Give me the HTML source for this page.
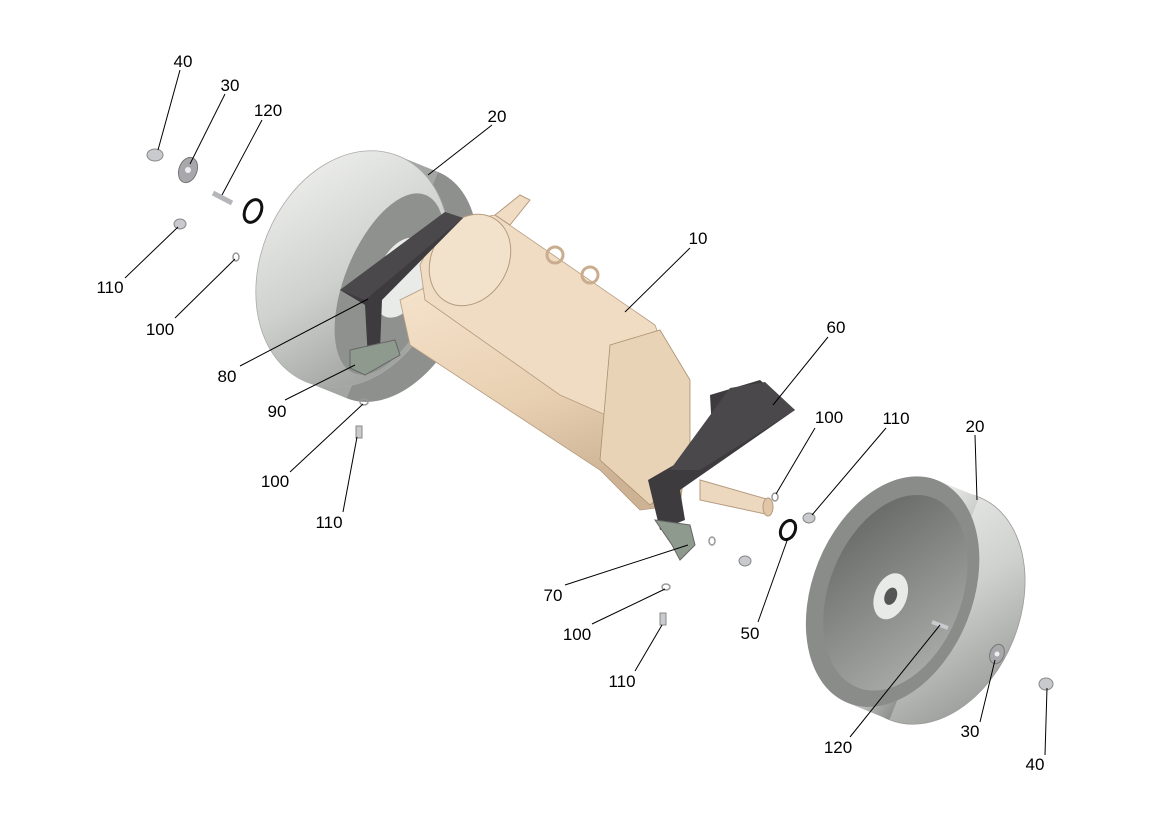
<!DOCTYPE html>
<html><head><meta charset="utf-8"><style>
html,body{margin:0;padding:0;background:#fff;}
svg{display:block;}
text{font-family:"Liberation Sans",Arial,sans-serif;font-size:17px;fill:#000;}
</style></head><body>
<svg width="1169" height="827" viewBox="0 0 1169 827" xmlns="http://www.w3.org/2000/svg">
<defs>
<linearGradient id="wg" x1="0" y1="0" x2="1" y2="1">
<stop offset="0" stop-color="#f4f5f3"/><stop offset="0.5" stop-color="#cfd1ce"/><stop offset="1" stop-color="#8d8f8d"/></linearGradient>
<linearGradient id="wf" x1="0" y1="0" x2="1" y2="1">
<stop offset="0" stop-color="#5f615f"/><stop offset="1" stop-color="#b3b5b3"/></linearGradient>
<linearGradient id="mg" x1="0" y1="0" x2="0.4" y2="1">
<stop offset="0" stop-color="#f5e3cc"/><stop offset="0.6" stop-color="#e8cfb1"/><stop offset="1" stop-color="#cdb294"/></linearGradient>
</defs>

<!-- LEFT WHEEL -->
<g transform="rotate(22 360 272)">
<ellipse cx="395" cy="272" rx="78" ry="122" fill="#8e908e"/>
<rect x="352" y="150" width="43" height="244" fill="#a4a6a4"/>
<ellipse cx="352" cy="272" rx="92" ry="122" fill="url(#wg)" stroke="#aaa" stroke-width="0.8"/>
<ellipse cx="392" cy="272" rx="45" ry="96" fill="#8f918f"/>
<ellipse cx="400" cy="262" rx="24" ry="42" fill="#e9ebe9"/>
</g>

<!-- MOTOR lower housing -->
<polygon points="400,300 430,285 690,430 680,505 640,510 600,470 410,345" fill="url(#mg)" stroke="#b59b7f" stroke-width="0.8"/>
<!-- upper cylinder -->
<polygon points="440,225 495,215 655,325 670,365 640,430 560,395 425,300 420,265" fill="#f0dcc2" stroke="#b59b7f" stroke-width="0.8"/>
<ellipse cx="470" cy="260" rx="38" ry="48" transform="rotate(30 470 260)" fill="#f3e2cb" stroke="#b59b7f"/>
<!-- gearbox -->
<polygon points="610,345 660,330 690,380 690,470 650,505 600,460" fill="#e9d3b6" stroke="#a8906f" stroke-width="0.8"/>
<!-- terminals -->
<polygon points="495,215 520,195 530,200 510,225" fill="#efdcc3" stroke="#b59b7f"/>
<circle cx="555" cy="255" r="8" fill="none" stroke="#c9ad8e" stroke-width="3"/>
<circle cx="590" cy="275" r="8" fill="none" stroke="#c9ad8e" stroke-width="3"/>
<!-- shaft -->
<polygon points="700,480 770,500 770,515 700,500" fill="#ecd8bf" stroke="#b59b7f"/>
<ellipse cx="768" cy="507" rx="5" ry="9" fill="#e1c7a8" stroke="#b59b7f"/>

<!-- bracket 80 (left) -->
<polygon points="340,290 445,212 463,218 382,300 380,350 368,360 365,305" fill="#3d3b3e"/>
<polygon points="340,290 445,212 463,218 365,300" fill="#4a484b"/>
<polygon points="350,350 395,340 400,355 365,375 350,368" fill="#8f9a8e" stroke="#666"/>

<!-- bracket 60 (right) -->
<polygon points="710,395 760,380 795,410 680,490 685,520 660,530 648,480 700,450 712,430" fill="#3d3b3e"/>
<polygon points="730,388 765,382 795,410 700,470 670,470" fill="#4a484b"/>
<polygon points="655,520 690,525 695,545 680,560 672,545" fill="#8f9a8e" stroke="#666"/>

<!-- RIGHT WHEEL -->
<g transform="rotate(22 900 600)">
<ellipse cx="935" cy="595" rx="85" ry="120" fill="url(#wg)" stroke="#999" stroke-width="0.8"/>
<rect x="890" y="475" width="45" height="240" fill="url(#wg)"/>
<ellipse cx="890" cy="595" rx="80" ry="120" fill="#8a8c8a"/>
<ellipse cx="893" cy="595" rx="66" ry="102" fill="url(#wf)"/>
<ellipse cx="890" cy="600" rx="16" ry="24" fill="#e8eae8"/>
<ellipse cx="890" cy="600" rx="6" ry="9" fill="#555"/>
</g>

<!-- small parts -->
<ellipse cx="155" cy="155" rx="8" ry="6" fill="#c9cacd" stroke="#888"/>
<ellipse cx="188" cy="170" rx="9" ry="13" transform="rotate(20 188 170)" fill="#a8a8ac" stroke="#777"/>
<circle cx="188" cy="170" r="3" fill="#eee"/>
<line x1="213" y1="193" x2="232" y2="203" stroke="#b5b6ba" stroke-width="5"/>
<ellipse cx="253" cy="211" rx="8" ry="12" transform="rotate(25 253 211)" fill="none" stroke="#111" stroke-width="3"/>
<ellipse cx="180" cy="224" rx="6" ry="5" fill="#c9cacd" stroke="#888"/>
<ellipse cx="236" cy="257" rx="3" ry="4" fill="none" stroke="#999" stroke-width="1.5"/>
<ellipse cx="364" cy="402" rx="4" ry="3" fill="none" stroke="#999" stroke-width="1.5"/>
<rect x="356" y="426" width="6" height="12" fill="#c9cacd" stroke="#888"/>
<ellipse cx="775" cy="497" rx="3" ry="4" fill="none" stroke="#999" stroke-width="1.5"/>
<ellipse cx="809" cy="518" rx="6" ry="5" fill="#c9cacd" stroke="#888"/>
<ellipse cx="788" cy="530" rx="7" ry="10" transform="rotate(25 788 530)" fill="none" stroke="#111" stroke-width="3"/>
<ellipse cx="712" cy="541" rx="3" ry="4" fill="none" stroke="#999" stroke-width="1.5"/>
<ellipse cx="745" cy="561" rx="6" ry="5" fill="#c9cacd" stroke="#888"/>
<ellipse cx="666" cy="587" rx="4" ry="3" fill="none" stroke="#999" stroke-width="1.5"/>
<rect x="660" y="613" width="6" height="12" fill="#c9cacd" stroke="#888"/>
<line x1="932" y1="622" x2="948" y2="628" stroke="#c9cacd" stroke-width="4"/>
<ellipse cx="997" cy="654" rx="7" ry="10" transform="rotate(20 997 654)" fill="#a8a8ac" stroke="#777"/>
<circle cx="997" cy="654" r="2.5" fill="#eee"/>
<ellipse cx="1046" cy="684" rx="7" ry="6" fill="#c9cacd" stroke="#888"/>

<!-- leaders -->
<g stroke="#000" stroke-width="1" fill="none">
<line x1="180" y1="70" x2="158" y2="150"/>
<line x1="225" y1="94" x2="190" y2="164"/>
<line x1="262" y1="120" x2="222" y2="195"/>
<line x1="492" y1="125" x2="428" y2="175"/>
<line x1="690" y1="248" x2="625" y2="312"/>
<line x1="125" y1="278" x2="178" y2="227"/>
<line x1="175" y1="318" x2="235" y2="259"/>
<line x1="240" y1="366" x2="368" y2="299"/>
<line x1="285" y1="400" x2="355" y2="365"/>
<line x1="828" y1="337" x2="773" y2="405"/>
<line x1="815" y1="428" x2="776" y2="494"/>
<line x1="886" y1="428" x2="812" y2="515"/>
<line x1="975" y1="435" x2="977" y2="500"/>
<line x1="290" y1="472" x2="363" y2="404"/>
<line x1="343" y1="512" x2="357" y2="437"/>
<line x1="565" y1="585" x2="688" y2="545"/>
<line x1="592" y1="624" x2="665" y2="589"/>
<line x1="758" y1="622" x2="788" y2="538"/>
<line x1="635" y1="671" x2="662" y2="625"/>
<line x1="850" y1="737" x2="940" y2="625"/>
<line x1="980" y1="722" x2="995" y2="660"/>
<line x1="1045" y1="755" x2="1047" y2="688"/>
</g>

<g text-anchor="middle">
<text x="183" y="67">40</text>
<text x="230" y="91">30</text>
<text x="268" y="116">120</text>
<text x="497" y="122">20</text>
<text x="698" y="244">10</text>
<text x="110" y="293">110</text>
<text x="160" y="335">100</text>
<text x="227" y="382">80</text>
<text x="277" y="417">90</text>
<text x="836" y="333">60</text>
<text x="829" y="423">100</text>
<text x="896" y="424">110</text>
<text x="975" y="432">20</text>
<text x="275" y="487">100</text>
<text x="329" y="528">110</text>
<text x="553" y="601">70</text>
<text x="577" y="640">100</text>
<text x="750" y="639">50</text>
<text x="622" y="687">110</text>
<text x="838" y="753">120</text>
<text x="970" y="737">30</text>
<text x="1035" y="770">40</text>
</g>
</svg>
</body></html>
